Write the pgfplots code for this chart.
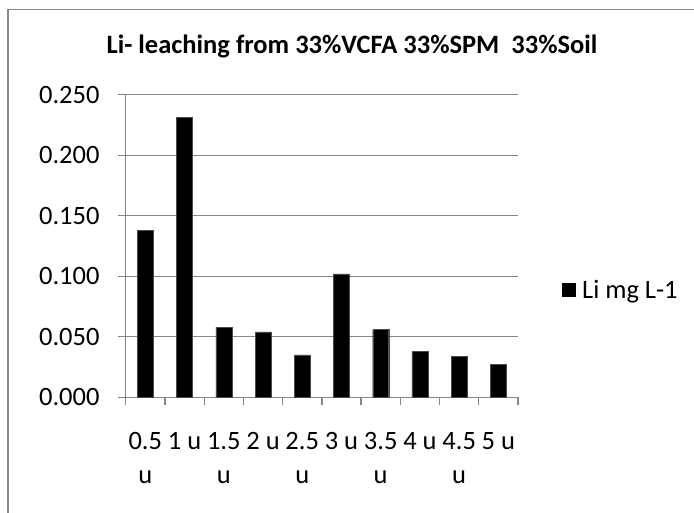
\documentclass[border=0pt]{standalone}
\usepackage{fontspec}
\setmainfont{Carlito}
\usepackage{pgfplots}
\pgfplotsset{compat=1.18}
\definecolor{gridgray}{HTML}{868686}

\begin{document}
\begin{tikzpicture}[x=1bp,y=1bp]
\useasboundingbox (0,0) rectangle (694,513);
\begin{scope}
\clip (0,0) rectangle (694,513);
% chart area border
\draw[gridgray, line width=1.3bp] (8,-10) -- (8,503.7) -- (710,503.7);
\end{scope}
% title
\node[anchor=base, font=\fontsize{26.5bp}{31bp}\selectfont\bfseries, inner sep=0pt]
  at (352,459.7) {Li- leaching from 33\%VCFA 33\%SPM\ \ 33\%Soil};
\begin{axis}[
  at={(125.7bp,115.7bp)}, anchor=south west,
  scale only axis, width=392.3bp, height=302.6bp,
  xmin=-0.5, xmax=9.5, ymin=0, ymax=0.25,
  axis lines*=left,
  axis line style={gridgray, line width=1.3bp},
  ymajorgrids, grid style={gridgray, line width=1.3bp},
  tick align=outside,
  xtick={0,1,...,9},
  xticklabels={{0.5\\u},{1 u},{1.5\\u},{2 u},{2.5\\u},{3 u},{3.5\\u},{4 u},{4.5\\u},{5 u}},
  major x tick style={draw=none},
  minor xtick={-0.5,0.5,...,9.5},
  minor tick length=8bp,
  minor x tick style={gridgray, line width=1.3bp},
  ytick={0,0.05,0.1,0.15,0.2,0.25},
  major tick length=8bp,
  major y tick style={gridgray, line width=1.3bp},
  yticklabel style={/pgf/number format/fixed, /pgf/number format/fixed zerofill,
    /pgf/number format/precision=3},
  /pgf/number format/assume math mode=true,
  ticklabel style={font=\fontsize{26.5bp}{34bp}\selectfont, inner sep=0pt},
  xticklabel style={align=center, anchor=north, yshift=-27bp},
  yticklabel style={anchor=east, xshift=-18bp},
  ybar, bar width=16bp,
  legend style={draw=none, fill=none, at={(1.111,0.3546)}, anchor=west,
    font=\fontsize{26.5bp}{31bp}\selectfont, inner sep=0pt,
    nodes={inner sep=0pt}, column sep=7bp},
  legend image code/.code={\fill[black] (0bp,-6.5bp) rectangle (13bp,6.5bp);},
]
\addplot[fill=black, draw=black!70!white, line width=0.4bp] coordinates {
  (0,0.138) (1,0.231) (2,0.058) (3,0.054) (4,0.035)
  (5,0.102) (6,0.056) (7,0.038) (8,0.034) (9,0.027)
};
\addlegendentry{Li mg L-1}
\end{axis}
\end{tikzpicture}
\end{document}
